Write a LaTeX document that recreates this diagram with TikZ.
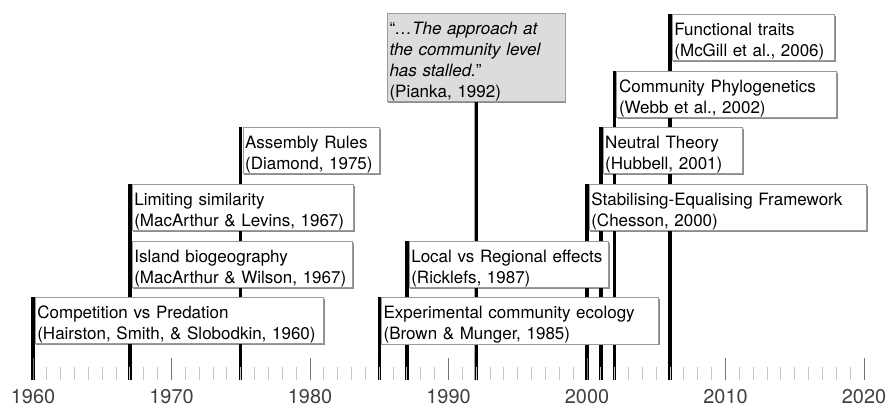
\documentclass[tikz,border=0pt]{standalone}
\usepackage{fontspec}
\setmainfont{TeX Gyre Heros}
\usepackage{xcolor}
\usepackage{tikz}
\usetikzlibrary{positioning, calc, shadows, backgrounds}

\definecolor{quotegray}{HTML}{DCDCDC}
\definecolor{boxline}{HTML}{9A9A9A}

\tikzset{
  evbox/.style={draw=boxline, line width=0.5pt, fill=white, anchor=north west,
    text width=#1, align=left, inner xsep=2pt, inner ysep=0.85pt,
    font=\fontsize{14.5}{17.9}\selectfont,
    execute at begin node={\hyphenpenalty=10000\rule{0pt}{17pt}},
    drop shadow={shadow xshift=1pt, shadow yshift=-1.3pt, opacity=0.45, fill=black}},
  quotebox/.style={evbox=#1, fill=quotegray, anchor=south},
  stem/.style={line width=2.9pt, black},
  majortick/.style={line width=0.8pt, black!55},
  minortick/.style={line width=0.8pt, black!22},
  yearlabel/.style={font=\fontsize{17}{20}\selectfont, text=black!75, anchor=base, inner sep=0pt}
}

\begin{document}
\begin{tikzpicture}[x=0.03cm, y=-0.03cm]
  \useasboundingbox (0,0) rectangle (892,408);

  % time axis: yearly and decade ticks
  \foreach \yr in {1960,...,2020} {
    \pgfmathsetmacro\xx{33+(\yr-1960)*13.85}
    \draw[minortick] (\xx,367) -- (\xx,380);
  }
  \foreach \yr in {1960,1970,...,2020} {
    \pgfmathsetmacro\xx{33+(\yr-1960)*13.85}
    \draw[majortick] (\xx,358) -- (\xx,380);
    \node[yearlabel] (lab\yr) at (\xx,403) {\yr};
  }

  % foot of each stem on the axis
  \foreach \yr in {1960,1967,1975,1985,1987,1992,2000,2001,2002,2006}
    \coordinate (e\yr) at ({33+(\yr-1960)*13.85},380);

  % events (box width minus 2*inner xsep)
  \node[evbox=8.51cm] (comp) at (34.7,297)
    {Competition vs Predation\\(Hairston, Smith, \& Slobodkin, 1960)};
  \node[evbox=6.47cm] (island) at (131.7,241)
    {Island biogeography\\(MacArthur \& Wilson, 1967)};
  \node[evbox=6.50cm] (limsim) at (131.7,184)
    {Limiting similarity\\(MacArthur \& Levins, 1967)};
  \node[evbox=3.96cm] (rules) at (242.5,127)
    {Assembly Rules\\(Diamond, 1975)};
  \node[evbox=8.17cm] (expt) at (381,297)
    {Experimental community ecology\\(Brown \& Munger, 1985)};
  \node[evbox=5.84cm] (locreg) at (408.7,241)
    {Local vs Regional effects\\(Ricklefs, 1987)};
  \node[quotebox=5.20cm] (pianka) at (476.2,102)
    {“\textit{…The approach at}\\\textit{the community level}\\\textit{has stalled.}”\\(Pianka, 1992)};
  \node[evbox=8.18cm] (chesson) at (588.7,184)
    {Stabilising-Equalising Framework\\(Chesson, 2000)};
  \node[evbox=4.05cm] (neutral) at (602.6,127)
    {Neutral Theory\\(Hubbell, 2001)};
  \node[evbox=6.45cm] (phylo) at (616.4,71)
    {Community Phylogenetics\\(Webb et al., 2002)};
  \node[evbox=4.73cm] (traits) at (671.8,14)
    {Functional traits\\(McGill et al., 2006)};

  % stems behind the boxes
  \begin{pgfonlayer}{background}
    \draw[stem] (e1960) -- (e1960 |- comp.north);
    \draw[stem] (e1967) -- (e1967 |- limsim.north);
    \draw[stem] (e1975) -- (e1975 |- rules.north);
    \draw[stem] (e1985) -- (e1985 |- expt.north);
    \draw[stem] (e1987) -- (e1987 |- locreg.north);
    \draw[stem] (e1992) -- (pianka.south);
    \draw[stem] (e2000) -- (e2000 |- chesson.north);
    \draw[stem] (e2001) -- (e2001 |- neutral.north);
    \draw[stem] (e2002) -- (e2002 |- phylo.north);
    \draw[stem] (e2006) -- (e2006 |- traits.north);
  \end{pgfonlayer}
\end{tikzpicture}
\end{document}
